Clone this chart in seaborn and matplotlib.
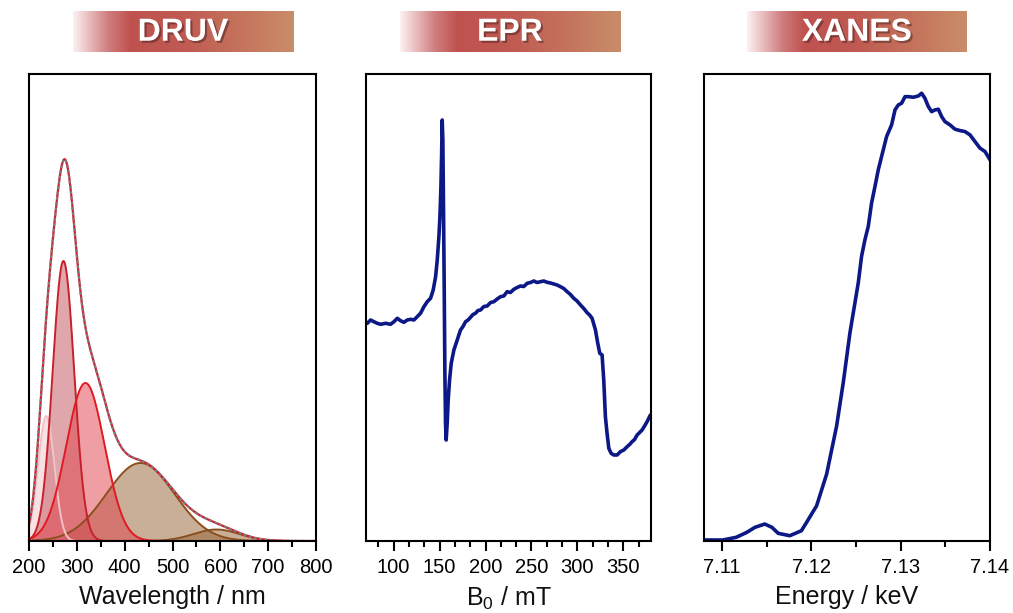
import numpy as np
import pandas as pd
import matplotlib
matplotlib.use("Agg")
import matplotlib.pyplot as plt
import seaborn as sns
from matplotlib.colors import LinearSegmentedColormap
import matplotlib.patheffects as pe
from matplotlib.ticker import MultipleLocator, FormatStrFormatter

# ---------------- data ----------------
# DRUV: Gaussian components of the deconvolution (centre nm, height a.u., sigma nm)
druv_centers = [236, 272, 318, 433, 592]
druv_heights = [125, 280, 158, 78, 11.5]
druv_sigmas = [17, 22.5, 40, 71, 48]
druv_face = ["#f4c9cc", "#c0505a", "#e0404a", "#946032", "#946032"]
druv_edge = ["#f2c2c6", "#c8202a", "#e01a22", "#8b4f1d", "#8b4f1d"]

# EPR spectrum (field mT, signal a.u.)
epr_field = [71.4, 75.0, 78.6, 82.2, 85.9, 91.3, 96.7, 100.4, 104.0, 107.6, 111.2, 114.9,
             118.5, 122.1, 125.7, 129.3, 133.0, 136.6, 140.2, 143.1, 145.7, 147.5, 149.3,
             150.4, 151.4, 152.2, 152.9, 153.6, 154.3, 155.1, 155.8, 156.5, 157.2, 158.3,
             159.4, 160.9, 162.7, 165.6, 169.2, 172.8, 175.5, 178.3, 181.0, 183.7, 186.4,
             189.1, 191.8, 194.6, 198.2, 201.8, 205.5, 209.1, 212.7, 216.3, 219.9, 223.5,
             227.1, 230.8, 234.4, 238.0, 241.6, 245.3, 248.9, 252.5, 256.1, 259.8, 263.4,
             267.0, 270.6, 274.3, 277.9, 281.5, 285.1, 288.8, 292.4, 296.0, 299.6, 303.3,
             306.9, 310.5, 313.2, 315.9, 319.6, 322.1, 324.3, 326.8, 328.6, 330.4, 332.2,
             334.1, 336.6, 339.5, 343.1, 346.7, 350.4, 354.0, 356.7, 359.4, 362.1, 364.9,
             367.6, 370.3, 373.0, 375.7, 379.3]
epr_signal = [217.7, 221.0, 219.3, 217.7, 216.7, 217.7, 216.7, 219.3, 222.7, 220.3, 218.7, 221.0,
              221.7, 221.0, 224.3, 227.7, 234.3, 239.3, 242.7, 251.0, 264.3, 281.0, 304.3,
              324.3, 351.0, 384.3, 421.0, 401.0, 334.3, 251.0, 167.7, 117.7, 101.0, 117.7,
              141.0, 161.0, 177.7, 191.0, 201.0, 211.0, 214.5, 219.3, 221.0, 223.7, 226.5,
              227.7, 230.5, 231.0, 234.5, 235.0, 238.5, 239.3, 242.0, 244.3, 245.0, 249.3,
              248.5, 251.7, 253.5, 255.0, 254.5, 257.7, 258.5, 260.0, 258.5, 259.3, 260.0,
              258.7, 258.0, 257.0, 256.0, 254.3, 252.5, 249.3, 246.5, 242.7, 240.0, 236.0,
              232.5, 228.3, 226.0, 222.7, 211.0, 197.7, 187.7, 186.0, 161.0, 124.3, 107.7,
              92.7, 87.7, 86.0, 86.0, 89.3, 91.0, 94.3, 96.5, 99.3, 101.5, 106.0,
              108.5, 111.0, 115.0, 119.3, 126.0]

# XANES spectrum (energy keV, normalised absorption a.u.)
xanes_energy = [7.1080, 7.1101, 7.1116, 7.1128, 7.1137, 7.1148, 7.1156, 7.1163, 7.1176,
                7.1189, 7.11948, 7.12060, 7.12172, 7.12284, 7.12358, 7.12433, 7.12489,
                7.12526, 7.12563, 7.12601, 7.12638, 7.12675, 7.12713, 7.12750, 7.12787,
                7.12843, 7.12899, 7.12937, 7.12974, 7.13011, 7.13049, 7.13086, 7.13142,
                7.13198, 7.13235, 7.13272, 7.13310, 7.13347, 7.13384, 7.13422, 7.13459,
                7.13496, 7.13552, 7.13608, 7.13664, 7.13720, 7.13776, 7.13832, 7.13888,
                7.13944, 7.14000]
xanes_mu = [0, 0, 2.7, 7.7, 12.7, 16.0, 12.7, 6.7, 4.3,
            9.3, 17.7, 34.3, 66.0, 114.3, 157.7, 207.7, 237.7,
            257.7, 284.3, 301.0, 314.3, 337.7, 354.3, 371.0, 384.3,
            404.3, 416.0, 431.0, 436.0, 437.7, 444.3, 444.3, 443.7,
            445.0, 447.7, 442.7, 434.3, 429.3, 431.0, 431.7, 424.3,
            419.3, 416.0, 411.7, 410.3, 409.3, 406.0, 399.3, 392.7,
            389.3, 381.0]

titles = ["DRUV", "EPR", "XANES"]
xlabels = ["Wavelength / nm", "B$_0$ / mT", "Energy / keV"]

# ---------------- style ----------------
sns.set_theme(style="white")
plt.rcParams['font.family'] = ['Liberation Sans', 'DejaVu Sans']
plt.rcParams['mathtext.fontset'] = 'custom'
plt.rcParams['mathtext.rm'] = 'Liberation Sans'
plt.rcParams['mathtext.it'] = 'Liberation Sans:italic'

W, H = 1013, 613
fig = plt.figure(figsize=(W / 100, H / 100), dpi=100)

ax_px = [(29, 316), (366, 651), (704, 990)]
top_px, bot_px = 74, 541
axes = []
for (l, r) in ax_px:
    ax = fig.add_axes([l / W, (H - bot_px) / H, (r - l) / W, (bot_px - top_px) / H])
    axes.append(ax)

navy = "#0b1886"

def style(ax, xlab, major, minor):
    for s in ax.spines.values():
        s.set_color("black")
        s.set_linewidth(1.5)
        s.set_visible(True)
    ax.set_yticks([])
    ax.xaxis.set_major_locator(MultipleLocator(major))
    ax.xaxis.set_minor_locator(MultipleLocator(minor))
    ax.tick_params(axis='x', which='both', bottom=True, top=False, direction='out',
                   color='black', width=1.5, labelsize=14.5, pad=5, labelcolor='black')
    ax.tick_params(axis='x', which='major', length=7.5)
    ax.tick_params(axis='x', which='minor', length=4.5)
    ax.set_xlabel(xlab, fontsize=18, color='#111111', labelpad=5.5)
    ax.set_ylabel("")

# ---- DRUV ----
ax = axes[0]
wl = np.linspace(200, 800, 1201)
comps = [h * np.exp(-(wl - c) ** 2 / (2 * s ** 2))
         for c, h, s in zip(druv_centers, druv_heights, druv_sigmas)]
order = [3, 4, 0, 1, 2]
alphas = [0.55, 0.5, 0.5, 0.5, 0.5]
for i in order:
    ax.fill_between(wl, 0, comps[i], color=druv_face[i], alpha=alphas[i], lw=0)
    sns.lineplot(x=wl, y=comps[i], ax=ax, color=druv_edge[i], lw=1.4, sort=False)
env = np.sum(comps, axis=0)
sns.lineplot(x=wl, y=env, ax=ax, color="#d02030", lw=1.6, sort=False)
ax.plot(wl, env, color="#7f7f7f", lw=1.6, ls=(0, (1.2, 1.2)))
ax.set_xlim(200, 800)
ax.set_ylim(0, bot_px - top_px)
style(ax, xlabels[0], 100, 50)

# ---- EPR ----
ax = axes[1]
sns.lineplot(x=epr_field, y=epr_signal, ax=ax, color=navy, lw=2.6)
ax.set_xlim(70, 380)
ax.set_ylim(0, bot_px - top_px)
style(ax, xlabels[1], 50, 50 / 3)

# ---- XANES ----
ax = axes[2]
sns.lineplot(x=xanes_energy, y=xanes_mu, ax=ax, color=navy, lw=2.6)
ax.set_xlim(7.108, 7.14)
ax.set_ylim(-1, bot_px - top_px)
style(ax, xlabels[2], 0.01, 0.005)
ax.xaxis.set_major_formatter(FormatStrFormatter('%.2f'))

# ---- banners ----
cmap = LinearSegmentedColormap.from_list(
    "banner",
    [(0.0, "#fbf1f1"), (0.06, "#ecc4c6"), (0.16, "#cf7c7e"), (0.26, "#bf524f"),
     (0.5, "#c05a52"), (0.75, "#c4725c"), (1.0, "#c98d68")])
grad = np.linspace(0, 1, 256).reshape(1, -1)
banners = [(73, 293), (400, 620), (747, 967)]
for (l, r), t in zip(banners, titles):
    bax = fig.add_axes([l / W, (H - 52) / H, (r - l) / W, 41 / H])
    bax.imshow(grad, aspect='auto', cmap=cmap, extent=(0, 1, 0, 1))
    bax.set_axis_off()
    bax.text(0.5, 0.47, t, transform=bax.transAxes, ha='center', va='center',
             fontsize=23, fontweight='bold', color='white',
             path_effects=[pe.SimplePatchShadow(offset=(1.5, -1.5), shadow_rgbFace='#3a1a1a', alpha=0.45),
                           pe.Normal()])

fig.savefig("out.png", dpi=100)
